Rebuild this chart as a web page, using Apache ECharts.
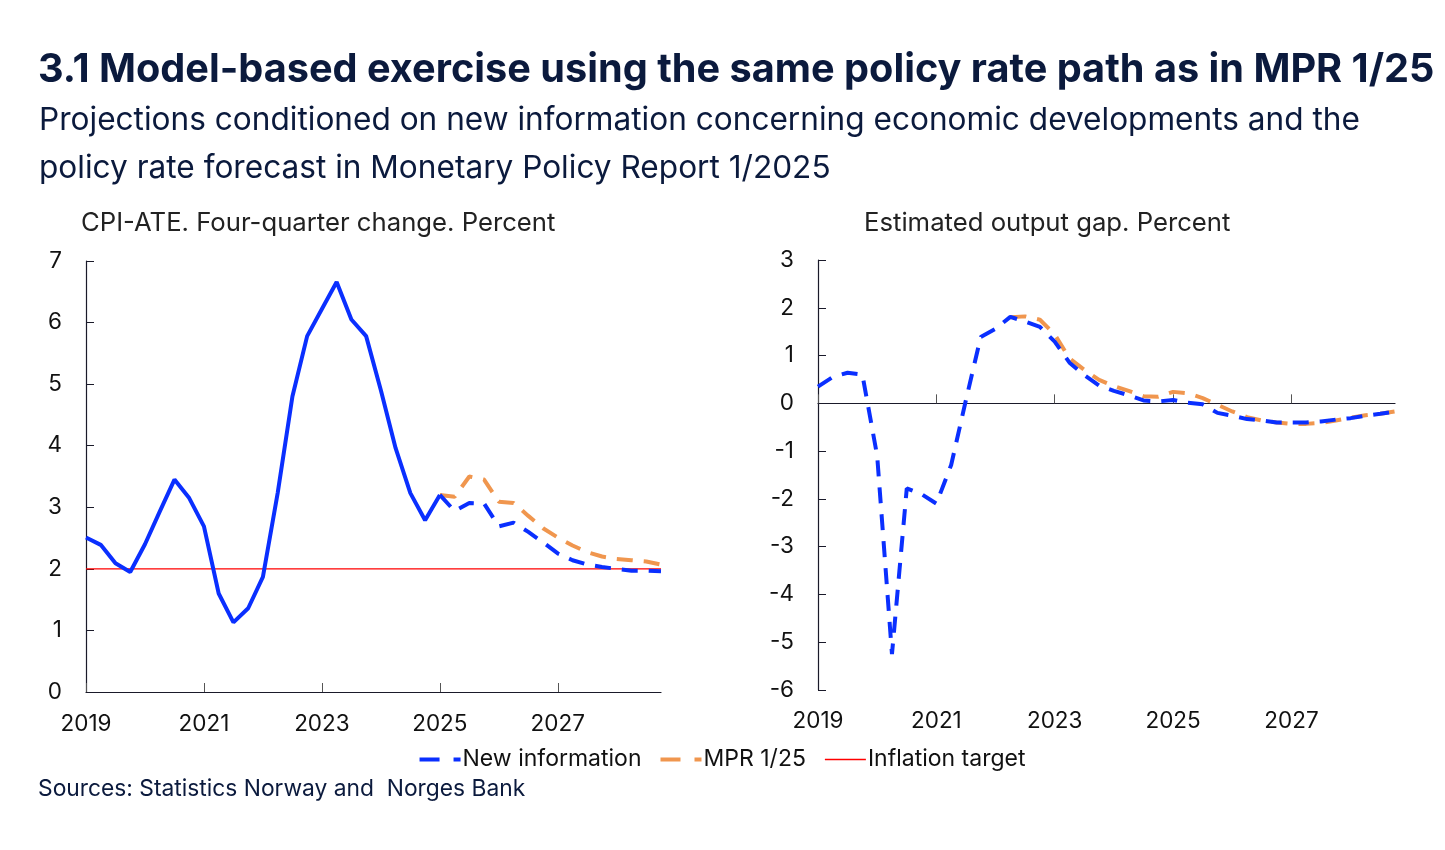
<!DOCTYPE html>
<html>
<head>
<meta charset="utf-8">
<script src="https://cdn.jsdelivr.net/npm/echarts@6/dist/echarts.min.js"></script>
<style>
html, body { margin: 0; padding: 0; background: #fff; }
#main { width: 1445px; height: 850px; }
</style>
</head>
<body>
<div id="main"></div>
<script>
// quarters 2019Q1 - 2028Q4
var quarters = [
    '2019Q1','2019Q2','2019Q3','2019Q4','2020Q1','2020Q2','2020Q3','2020Q4',
    '2021Q1','2021Q2','2021Q3','2021Q4','2022Q1','2022Q2','2022Q3','2022Q4',
    '2023Q1','2023Q2','2023Q3','2023Q4','2024Q1','2024Q2','2024Q3','2024Q4',
    '2025Q1','2025Q2','2025Q3','2025Q4','2026Q1','2026Q2','2026Q3','2026Q4',
    '2027Q1','2027Q2','2027Q3','2027Q4','2028Q1','2028Q2','2028Q3','2028Q4'
];

// CPI-ATE, four-quarter change
var cpiHistory = [
    2.51, 2.39, 2.09, 1.95, 2.40, 2.93, 3.45, 3.15,
    2.69, 1.60, 1.13, 1.36, 1.87, 3.23, 4.80, 5.78,
    6.22, 6.66, 6.05, 5.78, 4.90, 3.96, 3.23, 2.79,
    3.20, null, null, null, null, null, null, null,
    null, null, null, null, null, null, null, null
];
var cpiNewInfo = [
    null, null, null, null, null, null, null, null,
    null, null, null, null, null, null, null, null,
    null, null, null, null, null, null, null, null,
    3.20, 2.94, 3.07, 3.06, 2.69, 2.75, 2.60, 2.43,
    2.25, 2.14, 2.07, 2.03, 2.00, 1.97, 1.97, 1.96
];
var cpiMpr = [
    null, null, null, null, null, null, null, null,
    null, null, null, null, null, null, null, null,
    null, null, null, null, null, null, null, null,
    3.20, 3.17, 3.50, 3.45, 3.09, 3.07, 2.86, 2.66,
    2.51, 2.38, 2.27, 2.20, 2.16, 2.14, 2.12, 2.07
];
var inflationTarget = [
    2, 2, 2, 2, 2, 2, 2, 2, 2, 2, 2, 2, 2, 2, 2, 2, 2, 2, 2, 2,
    2, 2, 2, 2, 2, 2, 2, 2, 2, 2, 2, 2, 2, 2, 2, 2, 2, 2, 2, 2
];

// estimated output gap
var gapNewInfo = [
    0.35, 0.55, 0.64, 0.60, -1.10, -5.25, -1.78, -1.90,
    -2.10, -1.29, 0.07, 1.39, 1.56, 1.81, 1.71, 1.60,
    1.29, 0.85, 0.59, 0.37, 0.26, 0.17, 0.06, 0.04,
    0.07, 0.01, -0.02, -0.20, -0.26, -0.33, -0.36, -0.40,
    -0.40, -0.40, -0.38, -0.34, -0.31, -0.26, -0.22, -0.17
];
var gapMpr = [
    null, null, null, null, null, null, null, null,
    null, null, null, null, null, 1.80, 1.82, 1.75,
    1.44, 0.94, 0.70, 0.49, 0.36, 0.26, 0.15, 0.14,
    0.24, 0.21, 0.11, -0.03, -0.17, -0.29, -0.36, -0.40,
    -0.43, -0.43, -0.41, -0.36, -0.30, -0.25, -0.22, -0.17
];

var FONT = 'Inter';
var NAVY = '#0b1a3d';
var BLUE = '#0a2fff';
var ORANGE = '#f0964e';
var RED = '#ff0000';
var DASH = [16, 11];

// legend icons: dashed line, solid thin line
var ICON_DASH = 'path://M0,0H20V4H0Z M34,0H41V4H34Z';
var ICON_SOLID = 'path://M0,0H0.1V0.1H0Z M0,1.2H41V2.8H0Z M0,3.9H0.1V4H0Z';

function yearOnly(v) { return v.slice(0, 4); }

function catAxis(grid, showLabel, showLine, margin) {
    return {
        type: 'category',
        gridIndex: grid,
        data: quarters,
        boundaryGap: false,
        position: 'bottom',
        axisLine: { show: showLine, onZero: showLine, lineStyle: { color: '#1a1a2a', width: 1.2 } },
        axisTick: { show: showLine, inside: true, interval: 7, length: 9, lineStyle: { color: '#555' } },
        axisLabel: {
            show: showLabel, interval: 7, formatter: yearOnly, margin: margin,
            fontFamily: FONT, fontSize: 22.5, color: '#111'
        },
        splitLine: { show: false }
    };
}

function valAxis(grid, min, max, margin) {
    return {
        type: 'value',
        gridIndex: grid,
        min: min, max: max, interval: 1,
        axisLine: { show: true, lineStyle: { color: '#1a1a2a', width: 1.2 } },
        axisTick: { show: true, inside: true, length: 8, lineStyle: { color: '#1a1a2a' } },
        axisLabel: { margin: margin, fontFamily: FONT, fontSize: 22.5, color: '#111' },
        splitLine: { show: false }
    };
}

var chart = echarts.init(document.getElementById('main'));

var option = {
    backgroundColor: '#fff',
    animation: false,
    title: [
        {
            text: '3.1 Model-based exercise using the same policy rate path as in MPR 1/25',
            left: 33, top: 44,
            textStyle: { fontFamily: FONT, fontSize: 39.7, fontWeight: 'bold', color: NAVY, lineHeight: 42 }
        },
        {
            text: 'Projections conditioned on new information concerning economic developments and the\npolicy rate forecast in Monetary Policy Report 1/2025',
            left: 34, top: 91,
            textStyle: { fontFamily: FONT, fontSize: 31.6, fontWeight: 'normal', color: NAVY, lineHeight: 48 }
        },
        {
            text: 'CPI-ATE. Four-quarter change. Percent',
            left: 76, top: 203,
            textStyle: { fontFamily: FONT, fontSize: 25.7, fontWeight: 'normal', color: '#222', lineHeight: 30 }
        },
        {
            text: 'Estimated output gap. Percent',
            left: 859, top: 203,
            textStyle: { fontFamily: FONT, fontSize: 25.7, fontWeight: 'normal', color: '#222', lineHeight: 30 }
        },
        {
            text: 'Sources: Statistics Norway and  Norges Bank',
            left: 33, top: 771,
            textStyle: { fontFamily: FONT, fontSize: 22.8, fontWeight: 'normal', color: NAVY, lineHeight: 26 }
        }
    ],
    legend: {
        top: 743,
        left: 'center',
        itemWidth: 41,
        itemHeight: 4,
        itemGap: 19,
        textStyle: { fontFamily: FONT, fontSize: 23, color: '#111', padding: [0, 0, 0, -3] },
        data: [
            { name: 'New information', icon: ICON_DASH },
            { name: 'MPR 1/25', icon: ICON_DASH },
            { name: 'Inflation target', icon: ICON_SOLID }
        ]
    },
    grid: [
        { left: 86, top: 261, width: 575, height: 431 },
        { left: 818, top: 260, width: 577, height: 430 }
    ],
    xAxis: [
        catAxis(0, true, true, 21),
        catAxis(1, false, true, 20),
        catAxis(1, true, false, 20)
    ],
    yAxis: [
        valAxis(0, 0, 7, 24),
        valAxis(1, -6, 3, 24)
    ],
    series: [
        {
            name: 'Inflation target', type: 'line', xAxisIndex: 0, yAxisIndex: 0,
            data: inflationTarget, symbol: 'none', color: RED,
            lineStyle: { color: RED, width: 1.2 }
        },
        {
            name: 'MPR 1/25', type: 'line', xAxisIndex: 0, yAxisIndex: 0,
            data: cpiMpr, symbol: 'none', color: ORANGE,
            lineStyle: { color: ORANGE, width: 4, type: DASH }
        },
        {
            name: 'New information', type: 'line', xAxisIndex: 0, yAxisIndex: 0,
            data: cpiNewInfo, symbol: 'none', color: BLUE,
            lineStyle: { color: BLUE, width: 4, type: DASH }
        },
        {
            name: 'CPI history', type: 'line', xAxisIndex: 0, yAxisIndex: 0,
            data: cpiHistory, symbol: 'none', color: BLUE,
            lineStyle: { color: BLUE, width: 4 }
        },
        {
            name: 'MPR 1/25', type: 'line', xAxisIndex: 1, yAxisIndex: 1,
            data: gapMpr, symbol: 'none', color: ORANGE,
            lineStyle: { color: ORANGE, width: 4, type: DASH }
        },
        {
            name: 'New information', type: 'line', xAxisIndex: 1, yAxisIndex: 1,
            data: gapNewInfo, symbol: 'none', color: BLUE,
            lineStyle: { color: BLUE, width: 4, type: DASH }
        }
    ]
};

chart.setOption(option);
</script>
</body>
</html>
